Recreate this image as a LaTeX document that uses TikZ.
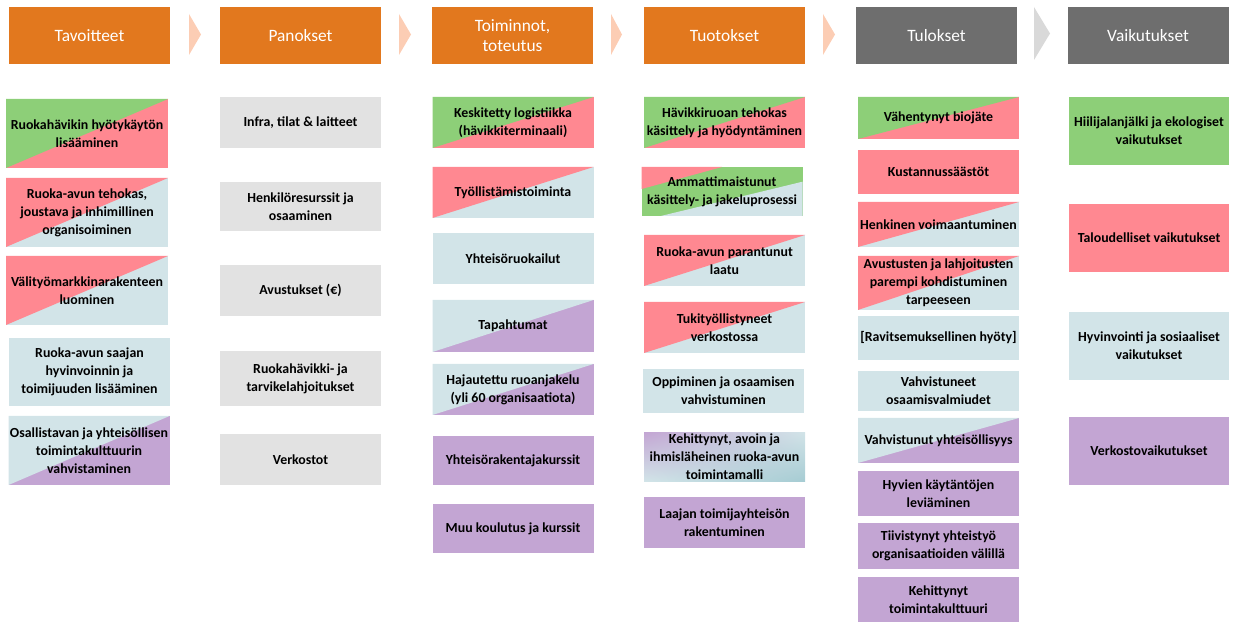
\documentclass[tikz,border=0pt]{standalone}
\usepackage{fontspec}
\setmainfont{Carlito}
\usepackage{tikz}
\usetikzlibrary{calc, shadings}
\definecolor{oranssi}{HTML}{E2781E}
\definecolor{harmaa}{HTML}{6E6E6E}
\definecolor{persikka}{HTML}{FCCDB4}
\definecolor{vaaleanharmaa}{HTML}{D9D9D9}
\definecolor{vihrea}{HTML}{8DCF78}
\definecolor{punainen}{HTML}{FF8891}
\definecolor{sininen}{HTML}{D2E4E8}
\definecolor{violetti}{HTML}{C3A5D3}
\definecolor{panos}{HTML}{E2E2E2}
\definecolor{turkoosi}{HTML}{A6CCD3}

\begin{document}
\begin{tikzpicture}[x=0.75pt, y=-0.75pt]
	\tikzstyle{otsikko}=[fill=oranssi, text=white, minimum width=120.75pt, minimum height=42.75pt, inner sep=0pt, align=center, font=\fontsize{13}{15.5}\selectfont]
	\tikzstyle{laatikko}=[minimum width=120.75pt, inner sep=0pt, align=center, font=\bfseries\fontsize{10.4}{13.5}\selectfont]
	\tikzset{korkeus/.style={minimum height=#1*0.75pt},
		kaksi/.style 2 args={fill=#2, path picture={
			\fill[#1] (path picture bounding box.north west) -- (path picture bounding box.south west)
				-- (path picture bounding box.north east) -- cycle;}}}
	\useasboundingbox (0,0) rectangle (1235,623);
	%%% HEADERS %%%
	\node[otsikko] (h1) at (89.5,35.5) {Tavoitteet};
	\node[otsikko] (h2) at (300.5,35.5) {Panokset};
	\node[otsikko] (h3) at (512.5,35.5) {Toiminnot,\\toteutus};
	\node[otsikko] (h4) at (724.5,35.5) {Tuotokset};
	\node[otsikko, fill=harmaa] (h5) at (936.5,35.5) {Tulokset};
	\node[otsikko, fill=harmaa] (h6) at (1148,35.5) {Vaikutukset};
	%chevrons between headers
	\fill[persikka] (189,14) -- (201,34.5) -- (189,55) -- cycle;
	\fill[persikka] (399,14) -- (411,34.5) -- (399,55) -- cycle;
	\fill[persikka] (611,14) -- (622,34.5) -- (611,55) -- cycle;
	\fill[persikka] (823,14) -- (835,34.5) -- (823,55) -- cycle;
	\fill[vaaleanharmaa] (1034,7) -- (1050,33.5) -- (1034,60) -- cycle;
	%%% TAVOITTEET %%%
	\node[laatikko, korkeus=69, minimum width=121.5pt, kaksi={vihrea}{punainen}] (t1) at (87,133.5) {Ruokahävikin hyötykäytön\\lisääminen};
	\node[laatikko, korkeus=69, minimum width=121.5pt, kaksi={punainen}{sininen}] (t2) at (87,212.5) {Ruoka-avun tehokas,\\joustava ja inhimillinen\\organisoiminen};
	\node[laatikko, korkeus=69, minimum width=121.5pt, kaksi={punainen}{sininen}] (t3) at (87,290.5) {Välityömarkkinarakenteen\\luominen};
	\node[laatikko, korkeus=68, fill=sininen] (t4) at (89.5,372) {Ruoka-avun saajan\\hyvinvoinnin ja\\toimijuuden lisääminen};
	\node[laatikko, korkeus=69, kaksi={sininen}{violetti}] (t5) at (89,450.5) {Osallistavan ja yhteisöllisen\\toimintakulttuurin\\vahvistaminen};
	%%% PANOKSET %%%
	\node[laatikko, korkeus=51, fill=panos] (p1) at (300.5,122.5) {Infra, tilat \& laitteet};
	\node[laatikko, korkeus=49, fill=panos] (p2) at (300.5,206.5) {Henkilöresurssit ja\\osaaminen};
	\node[laatikko, korkeus=51, fill=panos] (p3) at (300.5,290.5) {Avustukset (€)};
	\node[laatikko, korkeus=55, fill=panos] (p4) at (300.5,378.5) {Ruokahävikki- ja\\tarvikelahjoitukset};
	\node[laatikko, korkeus=51, fill=panos] (p5) at (300.5,459.5) {Verkostot};
	%%% TOIMINNOT %%%
	\node[laatikko, korkeus=51, kaksi={vihrea}{punainen}] (a1) at (513,122.5) {Keskitetty logistiikka\\(hävikkiterminaali)};
	\node[laatikko, korkeus=51, kaksi={punainen}{sininen}] (a2) at (513,192.5) {Työllistämistoiminta};
	\node[laatikko, korkeus=51, fill=sininen] (a3) at (513,258.5) {Yhteisöruokailut};
	\node[laatikko, korkeus=52, kaksi={sininen}{violetti}] (a4) at (513,326) {Tapahtumat};
	\node[laatikko, korkeus=51, kaksi={sininen}{violetti}] (a5) at (513,389.5) {Hajautettu ruoanjakelu\\(yli 60 organisaatiota)};
	\node[laatikko, korkeus=49, fill=violetti] (a6) at (513,460.5) {Yhteisörakentajakurssit};
	\node[laatikko, korkeus=49, fill=violetti] (a7) at (513,528.5) {Muu koulutus ja kurssit};
	%%% TUOTOKSET %%%
	\node[laatikko, korkeus=51, kaksi={vihrea}{punainen}] (u1) at (724.5,122.5) {Hävikkiruoan tehokas\\käsittely ja hyödyntäminen};
	%three colour box
	\node[laatikko, korkeus=49, fill=vihrea, path picture={
		\fill[punainen] (path picture bounding box.north west)
			-- ($(path picture bounding box.north west)!0.45!(path picture bounding box.south west)$)
			-- ($(path picture bounding box.north west)!0.5!(path picture bounding box.north east)$) -- cycle;
		\fill[sininen] ($(path picture bounding box.south west)!0.12!(path picture bounding box.south east)$)
			-- (path picture bounding box.south east)
			-- ($(path picture bounding box.north east)!0.3!(path picture bounding box.south east)$) -- cycle;}] (u2) at (722,191.5) {Ammattimaistunut\\käsittely- ja jakeluprosessi};
	\node[laatikko, korkeus=51, kaksi={punainen}{sininen}] (u3) at (724.5,260.5) {Ruoka-avun parantunut\\laatu};
	\node[laatikko, korkeus=51, kaksi={punainen}{sininen}] (u4) at (724.5,327.5) {Tukityöllistyneet\\verkostossa};
	\node[laatikko, korkeus=44, fill=sininen] (u5) at (723.5,391) {Oppiminen ja osaamisen\\vahvistuminen};
	\node[laatikko, korkeus=49, upper left=violetti, upper right=sininen, lower left=sininen, lower right=turkoosi] (u6) at (724.5,456.5) {Kehittynyt, avoin ja\\ihmisläheinen ruoka-avun\\toimintamalli};
	\node[laatikko, korkeus=51, fill=violetti] (u7) at (724.5,522.5) {Laajan toimijayhteisön\\rakentuminen};
	%%% TULOKSET %%%
	\node[laatikko, korkeus=42, kaksi={vihrea}{punainen}] (l1) at (938.5,118) {Vähentynyt biojäte};
	\node[laatikko, korkeus=44, fill=punainen] (l2) at (938.5,172) {Kustannussäästöt};
	\node[laatikko, korkeus=45, kaksi={punainen}{sininen}] (l3) at (938.5,224.5) {Henkinen voimaantuminen};
	\node[laatikko, korkeus=54, kaksi={punainen}{sininen}] (l4) at (938.5,283) {Avustusten ja lahjoitusten\\parempi kohdistuminen\\tarpeeseen};
	\node[laatikko, korkeus=44, fill=sininen] (l5) at (938.5,338) {[Ravitsemuksellinen hyöty]};
	\node[laatikko, korkeus=40, fill=sininen] (l6) at (938.5,391) {Vahvistuneet\\osaamisvalmiudet};
	\node[laatikko, korkeus=45, kaksi={sininen}{violetti}] (l7) at (938.5,440.5) {Vahvistunut yhteisöllisyys};
	\node[laatikko, korkeus=45, fill=violetti] (l8) at (938.5,493.5) {Hyvien käytäntöjen\\leviäminen};
	\node[laatikko, korkeus=46, fill=violetti] (l9) at (938.5,546) {Tiivistynyt yhteistyö\\organisaatioiden välillä};
	\node[laatikko, korkeus=45, fill=violetti] (l10) at (938.5,599.5) {Kehittynyt\\toimintakulttuuri};
	%%% VAIKUTUKSET %%%
	\node[laatikko, korkeus=68, minimum width=120pt, fill=vihrea] (v1) at (1149,131) {Hiilijalanjälki ja ekologiset\\vaikutukset};
	\node[laatikko, korkeus=68, minimum width=120pt, fill=punainen] (v2) at (1149,238) {Taloudelliset vaikutukset};
	\node[laatikko, korkeus=68, minimum width=120pt, fill=sininen] (v3) at (1149,346) {Hyvinvointi ja sosiaaliset\\vaikutukset};
	\node[laatikko, korkeus=68, minimum width=120pt, fill=violetti] (v4) at (1149,451) {Verkostovaikutukset};
\end{tikzpicture}
\end{document}
